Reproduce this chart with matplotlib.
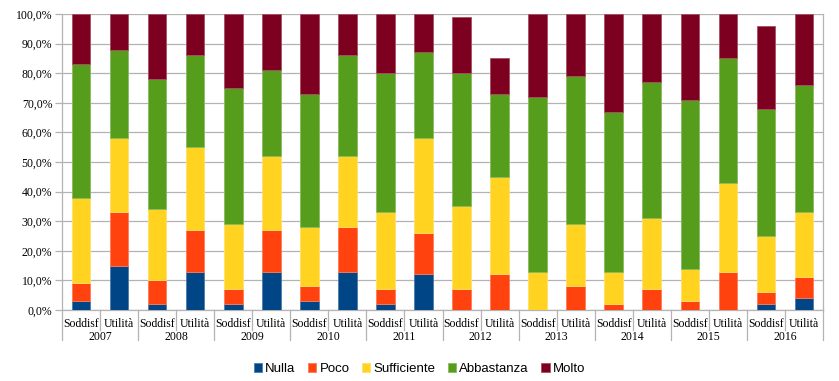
import matplotlib
matplotlib.use("Agg")
import matplotlib.pyplot as plt
import numpy as np

# one bar per (year, question): Soddisf, Utilità
years = ['2007', '2008', '2009', '2010', '2011', '2012', '2013', '2014', '2015', '2016']
bar_labels = ['Soddisf', 'Utilità']
series_names = ['Nulla', 'Poco', 'Sufficiente', 'Abbastanza', 'Molto']

# percentages, order: 2007 S, 2007 U, 2008 S, ...
nulla = [3, 15, 2, 13, 2, 13, 3, 13, 2, 12, 0, 0, 0, 0, 0, 0, 0, 0, 2, 4]
poco = [6, 18, 8, 14, 5, 14, 5, 15, 5, 14, 7, 12, 0, 8, 2, 7, 3, 13, 4, 7]
sufficiente = [29, 25, 24, 28, 22, 25, 20, 24, 26, 32, 28, 33, 13, 21, 11, 24, 11, 30, 19, 22]
abbastanza = [45, 30, 44, 31, 46, 29, 45, 34, 47, 29, 45, 28, 59, 50, 54, 46, 57, 42, 43, 43]
molto = [17, 12, 22, 14, 25, 19, 27, 14, 20, 13, 19, 12, 28, 21, 33, 23, 29, 15, 28, 24]

colors = ['#004586', '#ff420e', '#ffd320', '#579d1c', '#7e0021']
edges = ['#4d7daa', '#ff7a57', '#ffe06a', '#89bb62', '#a5515f']

serif = ['Liberation Serif', 'DejaVu Serif']
sans = ['Liberation Sans', 'DejaVu Sans']

fig = plt.figure(figsize=(8.39, 3.81), dpi=100)
ax = fig.add_axes([62 / 839, 1 - 310 / 381, (823 - 62) / 839, 296 / 381])

x = np.arange(len(nulla))
bottom = np.zeros(len(x))
for name, vals, c, ec in zip(series_names, [nulla, poco, sufficiente, abbastanza, molto], colors, edges):
    vals = np.array(vals, dtype=float)
    ax.bar(x, vals, 0.49, bottom=bottom, color=c, edgecolor=ec, linewidth=0.6,
           label=name, zorder=3)
    bottom += vals

ax.set_xlim(-0.5, len(x) - 0.5)
ax.set_ylim(0, 100)
ax.set_yticks(np.arange(0, 101, 10))
ax.set_yticklabels(['%d,0%%' % v for v in range(0, 101, 10)], fontfamily=serif, fontsize=8.5)
ax.yaxis.grid(True, color='#b3b3b3', linewidth=0.9, zorder=0)
ax.tick_params(axis='y', length=5, width=0.9, color='#b3b3b3', pad=2)
ax.set_xticks([])
for s in ax.spines.values():
    s.set_color('#b3b3b3')
    s.set_linewidth(0.9)
ax.spines['top'].set_visible(False)

# two-level category axis
trans = ax.get_xaxis_transform()
h = 296.0
for i in range(len(x) + 1):
    pos = i - 0.5
    depth = 30 / h if i % 2 == 0 else 20 / h
    ax.plot([pos, pos], [0, -depth], transform=trans, color='#b3b3b3', lw=0.9, clip_on=False)
for i in x:
    ax.text(i, -14 / h, bar_labels[i % 2], transform=trans, ha='center', va='center',
            fontfamily=serif, fontsize=8.5)
for j, yr in enumerate(years):
    ax.text(2 * j + 0.5, -27 / h, yr, transform=trans, ha='center', va='center',
            fontfamily=serif, fontsize=8.5)

handles, labels = ax.get_legend_handles_labels()
fig.legend(handles, labels, loc='center', bbox_to_anchor=(419.5 / 839, 1 - 369 / 381), ncol=5,
           frameon=False, prop={'family': sans, 'size': 9.5}, handlelength=0.62, handleheight=0.62,
           handletextpad=0.25, columnspacing=0.95, borderaxespad=0)

fig.savefig('out.png', dpi=100)
